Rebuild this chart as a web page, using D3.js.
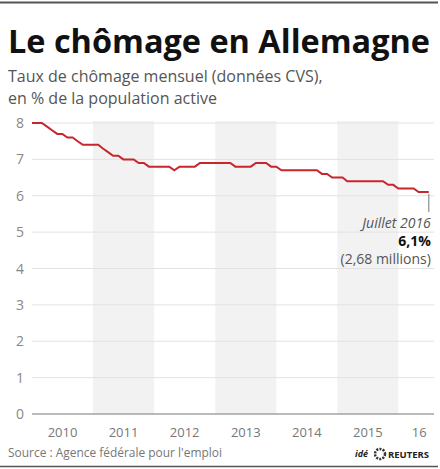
<!DOCTYPE html>
<html lang="fr">
<head>
<meta charset="utf-8">
<title>Le chômage en Allemagne</title>
<script src="https://cdn.jsdelivr.net/npm/d3@7"></script>
<style>
  body { margin: 0; background: #fff; }
  text { font-family: "Open Sans", "DejaVu Sans", sans-serif; }
</style>
</head>
<body>
<script>
// monthly rates, Jan 2010 .. Jul 2016
var firstMonth = new Date(2010, 0, 1);
var rates = [
  8.0, 8.0, 8.0, 7.9, 7.8, 7.7, 7.7, 7.6, 7.6, 7.5, 7.4, 7.4,
  7.4, 7.4, 7.3, 7.2, 7.1, 7.1, 7.0, 7.0, 7.0, 6.9, 6.9, 6.8,
  6.8, 6.8, 6.8, 6.8, 6.7, 6.8, 6.8, 6.8, 6.8, 6.9, 6.9, 6.9,
  6.9, 6.9, 6.9, 6.9, 6.8, 6.8, 6.8, 6.8, 6.9, 6.9, 6.9, 6.8,
  6.8, 6.7, 6.7, 6.7, 6.7, 6.7, 6.7, 6.7, 6.7, 6.6, 6.6, 6.5,
  6.5, 6.5, 6.4, 6.4, 6.4, 6.4, 6.4, 6.4, 6.4, 6.4, 6.3, 6.3,
  6.2, 6.2, 6.2, 6.2, 6.1, 6.1, 6.1
];
var years = [2010, 2011, 2012, 2013, 2014, 2015, 2016];
var yearLabels = ["2010", "2011", "2012", "2013", "2014", "2015", "16"];
var shadedYears = [2011, 2013, 2015];
var yTicks = [0, 1, 2, 3, 4, 5, 6, 7, 8];

var W = 440, H = 469;
var svg = d3.select("body").append("svg")
    .attr("width", W).attr("height", H);

var dataset = rates.map(function(v, i) {
  return { date: d3.timeMonth.offset(firstMonth, i), value: v };
});
var endDate = d3.timeMonth.offset(firstMonth, rates.length);

var x = d3.scaleTime()
    .domain([firstMonth, endDate])
    .range([32, 434]);
var y = d3.scaleLinear()
    .domain([0, 8])
    .range([414, 123]);

// top and bottom rules
svg.append("line").attr("x1", 0).attr("x2", 438).attr("y1", 2.5).attr("y2", 2.5)
    .attr("stroke", "#555").attr("stroke-width", 2);
svg.append("line").attr("x1", 0).attr("x2", 438).attr("y1", 466.5).attr("y2", 466.5)
    .attr("stroke", "#555").attr("stroke-width", 1.5);

// title
svg.append("text")
    .attr("x", 8).attr("y", 53)
    .attr("font-size", 33).attr("font-weight", 700).attr("fill", "#111")
    .attr("textLength", 422).attr("lengthAdjust", "spacingAndGlyphs")
    .text("Le chômage en Allemagne");

svg.append("text").attr("x", 8).attr("y", 82)
    .attr("font-size", 16).attr("fill", "#555")
    .text("Taux de chômage mensuel (données CVS),");
svg.append("text").attr("x", 8).attr("y", 104)
    .attr("font-size", 16).attr("fill", "#555")
    .text("en % de la population active");

// shaded years
svg.selectAll(".band")
  .data(shadedYears)
  .enter().append("rect")
    .attr("class", "band")
    .attr("x", function(d) { return x(new Date(d, 0, 1)); })
    .attr("width", function(d) { return x(new Date(d + 1, 0, 1)) - x(new Date(d, 0, 1)); })
    .attr("y", y(8) - 2)
    .attr("height", y(0) - y(8) + 2)
    .attr("fill", "#f2f2f2");

// gridlines
svg.selectAll(".grid")
  .data(yTicks)
  .enter().append("line")
    .attr("class", "grid")
    .attr("x1", 32).attr("x2", 434)
    .attr("y1", function(d) { return y(d); })
    .attr("y2", function(d) { return y(d); })
    .attr("stroke", function(d) { return d === 0 ? "#777" : "#e2e2e2"; })
    .attr("stroke-width", 1);

// y axis labels
svg.selectAll(".ylab")
  .data(yTicks)
  .enter().append("text")
    .attr("class", "ylab")
    .attr("x", 20)
    .attr("y", function(d) { return y(d) + 5; })
    .attr("text-anchor", "middle")
    .attr("font-size", 14).attr("fill", "#888")
    .text(function(d) { return d; });

// x labels, centred in each year
svg.selectAll(".xlab")
  .data(years)
  .enter().append("text")
    .attr("class", "xlab")
    .attr("x", function(d) {
      var a = x(new Date(d, 0, 1));
      var b = Math.min(x(new Date(d + 1, 0, 1)), x(endDate));
      return d === 2016 ? (a + b) / 2 + 3 : (a + b) / 2;
    })
    .attr("y", 437)
    .attr("text-anchor", "middle")
    .attr("font-size", 13).attr("fill", "#777")
    .text(function(d, i) { return yearLabels[i]; });

// the line
var line = d3.line()
    .x(function(d) { return x(d.date); })
    .y(function(d) { return y(d.value); });

svg.append("path")
    .datum(dataset)
    .attr("d", line)
    .attr("fill", "none")
    .attr("stroke", "#c9252c")
    .attr("stroke-width", 2);

// annotation for the last point
var last = dataset[dataset.length - 1];
var lx = x(last.date);
svg.append("line")
    .attr("x1", lx).attr("x2", lx)
    .attr("y1", y(last.value) + 2).attr("y2", y(last.value) + 20)
    .attr("stroke", "#777").attr("stroke-width", 1);

svg.append("text").attr("x", lx + 2).attr("y", 228)
    .attr("text-anchor", "end").attr("font-size", 14)
    .attr("font-style", "italic").attr("fill", "#555")
    .text("Juillet 2016");
svg.append("text").attr("x", lx + 2).attr("y", 246)
    .attr("text-anchor", "end").attr("font-size", 14)
    .attr("font-weight", 700).attr("fill", "#111")
    .text("6,1%");
svg.append("text").attr("x", lx + 2).attr("y", 264)
    .attr("text-anchor", "end").attr("font-size", 14).attr("fill", "#555")
    .text("(2,68 millions)");

// source
svg.append("text").attr("x", 8).attr("y", 457)
    .attr("font-size", 13).attr("fill", "#777")
    .attr("textLength", 214).attr("lengthAdjust", "spacingAndGlyphs")
    .text("Source : Agence fédérale pour l'emploi");

// logo
svg.append("text").attr("x", 355).attr("y", 457)
    .attr("font-size", 9).attr("font-weight", 700).attr("font-style", "italic")
    .attr("fill", "#222").text("idé");
svg.append("circle").attr("cx", 380).attr("cy", 454).attr("r", 5)
    .attr("fill", "none").attr("stroke", "#333").attr("stroke-width", 2.5)
    .attr("stroke-dasharray", "2 1.2");
svg.append("text").attr("x", 388).attr("y", 458)
    .attr("font-size", 9.5).attr("font-weight", 700)
    .attr("fill", "#222").text("REUTERS");
</script>
</body>
</html>
